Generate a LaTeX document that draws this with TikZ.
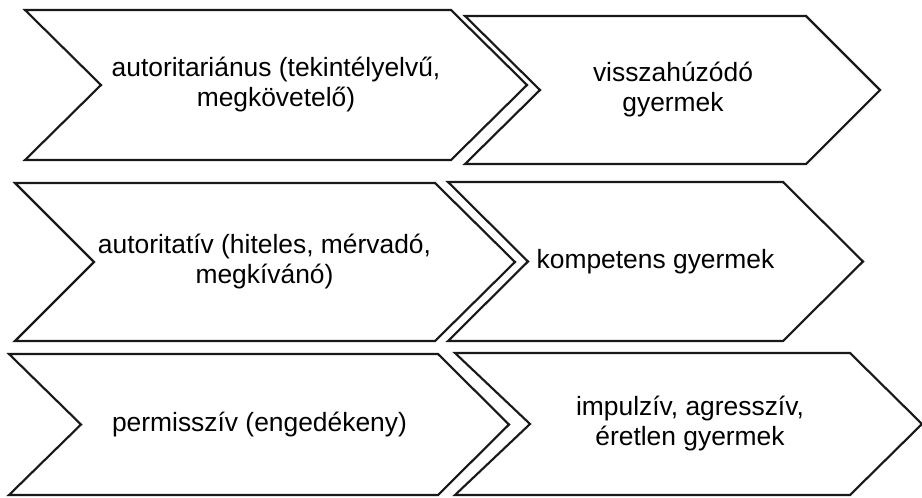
\documentclass[tikz,border=0pt]{standalone}
\usepackage{fontspec}
\setmainfont{Liberation Sans}
\usepackage{tikz}
\usetikzlibrary{calc}
\tikzset{
  chev/.style={draw=black!90, line width=1.6pt, line join=miter, fill=white},
  lbl/.style={align=center, inner sep=0pt, font=\fontsize{19.8}{22.5}\selectfont},
}
% #1 name, #2 left, #3 notch, #4 corner, #5 tip, #6 top, #7 bottom, #8 text
\newcommand{\chevron}[8]{%
  \draw[chev] (#2,#6) -- (#4,#6) -- (#5,{(#6+#7)/2}) -- (#4,#7) -- (#2,#7)
    -- (#3,{(#6+#7)/2}) -- cycle;
  \node[lbl] (#1) at ({(#3+#4)/2},{(#6+#7)/2}) {#8};%
}

\begin{document}
\begin{tikzpicture}[x=0.75pt, y=-0.75pt]
  \useasboundingbox (0,0) rectangle (922,497);
  % parenting styles
  \chevron{style1}{25}{101}{451}{527}{10}{160}{autoritariánus (tekintélyelvű,\\megkövetelő)}
  \chevron{style2}{15}{94}{435}{515}{183}{341}{autoritatív (hiteles, mérvadó,\\megkívánó)}
  \chevron{style3}{9}{81}{438}{509}{354}{495}{permisszív (engedékeny)}
  % resulting child
  \chevron{child1}{465}{540}{806}{880}{16}{164}{visszahúzódó\\gyermek}
  \chevron{child2}{448}{528}{783}{863}{182}{341}{kompetens gyermek}
  \chevron{child3}{455}{530}{850}{922}{353}{495}{impulzív, agresszív,\\éretlen gyermek}
\end{tikzpicture}
\end{document}
